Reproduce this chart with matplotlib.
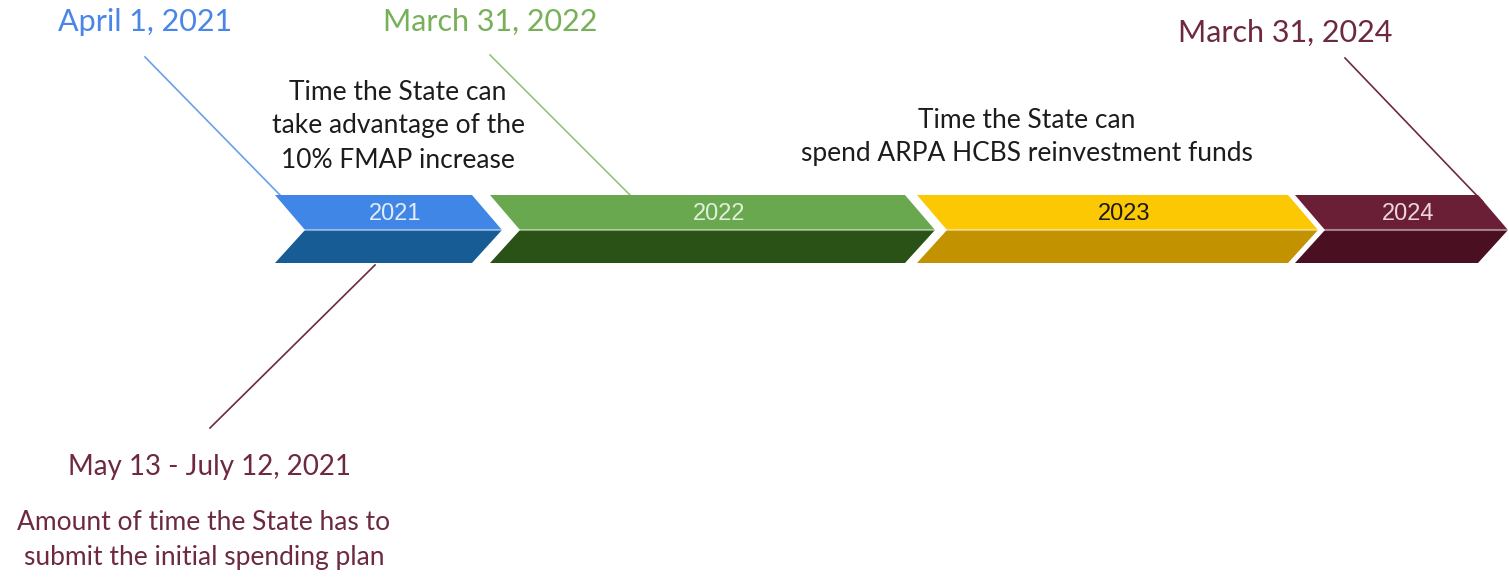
"""
ARPA HCBS timeline: chevron bars with date call-outs
"""

import matplotlib
matplotlib.use("Agg")
import matplotlib.pyplot as plt
from matplotlib.patches import Polygon

# chevron segments (timeline units, left edge -> arrow tip)
years = ["2021", "2022", "2023", "2024"]
seg_start = [275, 490, 917, 1295]
seg_end = [502, 935, 1318, 1508]
top_colors = ["#3f86e6", "#6aa84f", "#fcc804", "#6b1f37"]
bottom_colors = ["#175c94", "#2a5216", "#c29200", "#4a1022"]
year_text_colors = ["#e3ecfb", "#e2eedb", "#1a1a1a", "#ecd6dd"]

# call-outs: label, text position, leader line from -> to
dates = ["April 1, 2021", "March 31, 2022", "March 31, 2024", "May 13 - July 12, 2021"]
date_x = [145, 490, 1285, 210]
date_y = [22, 22, 33, 467]
date_colors = ["#4a86e8", "#78b05a", "#6d2a3f", "#6d2a3f"]
leader_from = [(145, 57), (490, 55), (1345, 58), (375, 265)]
leader_to = [(280, 195), (630, 195), (1483, 202), (210, 428)]
leader_colors = ["#6a9ff0", "#93c47d", "#6d2a3f", "#6d2a3f"]

notes = [
    "Time the State can\ntake advantage of the\n10% FMAP increase",
    "Time the State can\nspend ARPA HCBS reinvestment funds",
    "Amount of time the State has to\nsubmit the initial spending plan",
]
note_x = [398, 1027, 204]
note_y = [126, 137, 540]
note_colors = ["#1c1c1c", "#1c1c1c", "#6d2a3f"]

BAR_TOP, BAR_MID, BAR_BOT = 195, 230, 263
DEPTH = 30


def draw_chevron(ax, x0, x1, c_top, c_bot):
    xr = x1 - DEPTH
    top = [(x0, BAR_TOP), (xr, BAR_TOP), (x1, BAR_MID), (x0 + DEPTH, BAR_MID)]
    bot = [(x0 + DEPTH, BAR_MID), (x1, BAR_MID), (xr, BAR_BOT), (x0, BAR_BOT)]
    ax.add_patch(Polygon(top, closed=True, facecolor=c_top, edgecolor="none"))
    ax.add_patch(Polygon(bot, closed=True, facecolor=c_bot, edgecolor="none"))
    ax.plot([x0 + DEPTH, x1], [BAR_MID, BAR_MID], color="white", alpha=0.45, lw=1.5)


def timeline_plot():
    fig = plt.figure(figsize=(15.09, 5.77), dpi=100)
    ax = fig.add_axes([0, 0, 1, 1])
    ax.set_xlim(0, 1509)
    ax.set_ylim(577, 0)
    ax.axis("off")

    # leader lines from the dates to the bar
    for (xa, ya), (xb, yb), c in zip(leader_from, leader_to, leader_colors):
        ax.plot([xa, xb], [ya, yb], color=c, lw=1.2, zorder=1)

    for yr, x0, x1, ct, cb, tc in zip(years, seg_start, seg_end, top_colors,
                                      bottom_colors, year_text_colors):
        draw_chevron(ax, x0, x1, ct, cb)
        ax.text((x0 + x1) / 2 + 7, 214, yr, ha="center", va="center", color=tc,
                fontsize=17, family="Liberation Sans", zorder=3)

    for d, x, y, c in zip(dates, date_x, date_y, date_colors):
        size = 22 if y < 100 else 20
        ax.text(x, y, d, ha="center", va="center", color=c, fontsize=size,
                family="Lato")

    for n, x, y, c in zip(notes, note_x, note_y, note_colors):
        ax.text(x, y, n, ha="center", va="center", color=c, fontsize=19,
                family="Lato", linespacing=1.45)

    fig.savefig("out.png", dpi=100)


if __name__ == "__main__":
    timeline_plot()
